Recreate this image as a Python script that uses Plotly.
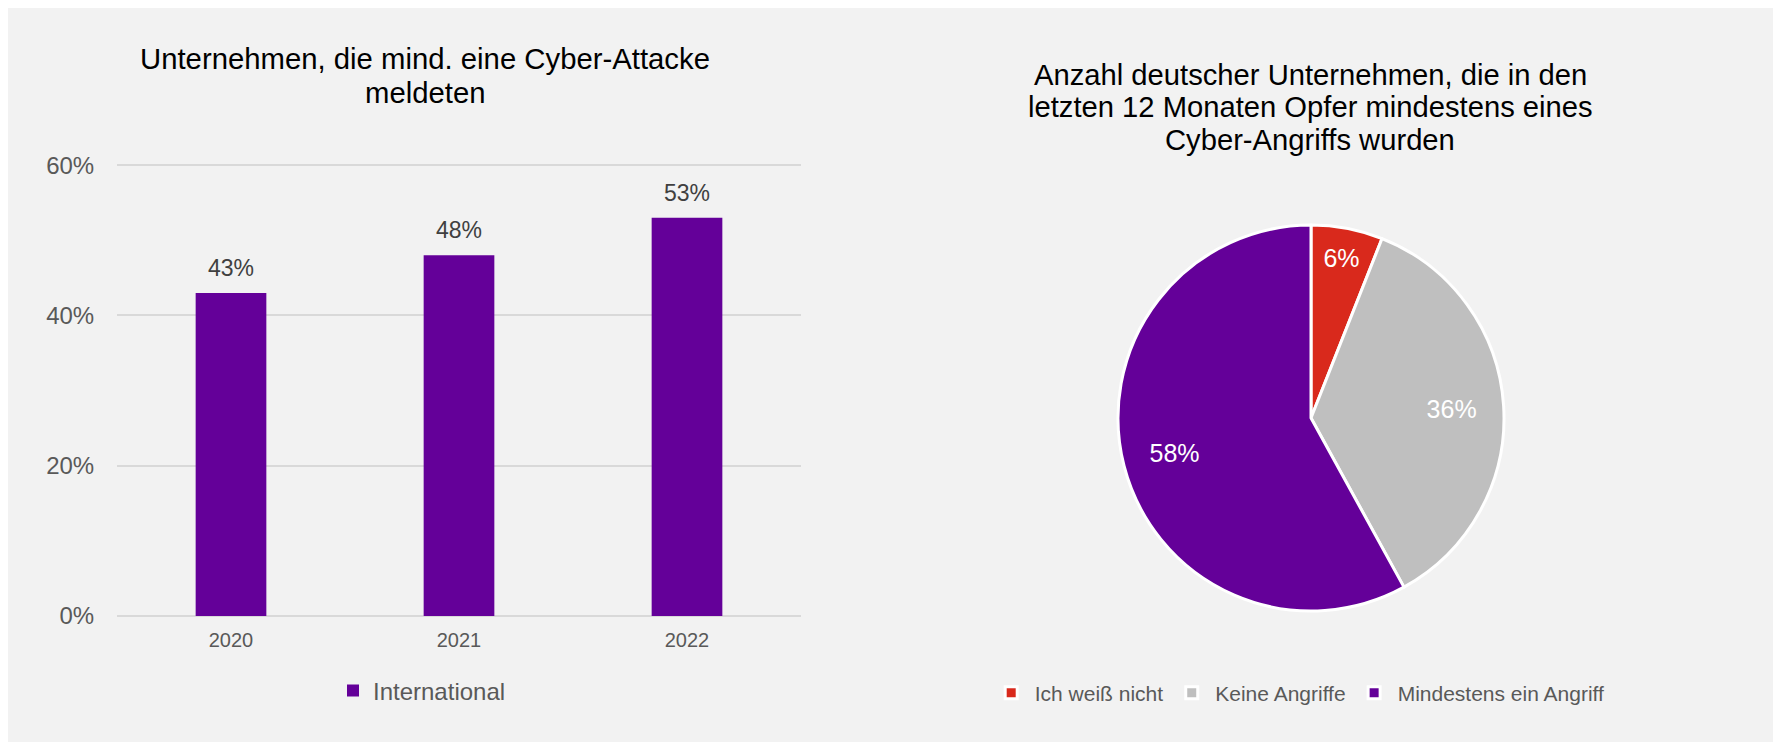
import plotly.graph_objects as go

# ---- data ----
years = ["2020", "2021", "2022"]
international = [43, 48, 53]

pie_labels = ["Ich weiß nicht", "Keine Angriffe", "Mindestens ein Angriff"]
pie_values = [6, 36, 58]

bar_title_lines = ["Unternehmen, die mind. eine Cyber-Attacke", "meldeten"]
pie_title_lines = ["Anzahl deutscher Unternehmen, die in den",
                   "letzten 12 Monaten Opfer mindestens eines",
                   "Cyber-Angriffs wurden"]
y_ticks = [0, 20, 40, 60]
y_tick_labels = [f"{v}%" for v in y_ticks]

# ---- styling ----
# page body has an 8px margin: figure coordinates = screen coordinates - 8
OFF = 8
FW, FH = 1773, 736
FONT = "Liberation Sans, Arial, sans-serif"
PURPLE = "#640099"
RED = "#d9291c"
GREY = "#bfbfbf"
TXT = "#595959"


def px_x(x):
    return (x - OFF) / FW


def px_y(y):
    return (FH - (y - OFF)) / FH


pie_domain = dict(x=[px_x(1118), px_x(1504)], y=[px_y(612), px_y(224)])

# y axis: 0..60 maps to screen 616..165.2, padded so edge gridlines are drawn
Y0_PX, Y60_PX = 616.0, 165.2
PAD = 0.4
ppu = (Y0_PX - Y60_PX) / 60.0

fig = go.Figure()

fig.add_trace(go.Bar(
    x=years, y=international, name="International",
    marker=dict(color=PURPLE, line=dict(width=0)),
    legend="legend", showlegend=True, xaxis="x", yaxis="y",
))

# pie with slices, borders and legend
fig.add_trace(go.Pie(
    labels=pie_labels, values=pie_values,
    marker=dict(colors=[RED, GREY, PURPLE], line=dict(color="white", width=3)),
    sort=False, direction="clockwise", rotation=0,
    textinfo="none",
    domain=pie_domain,
    legend="legend2", showlegend=True,
))
# transparent ring of the same data carrying the percentage labels further out
fig.add_trace(go.Pie(
    labels=pie_labels, values=pie_values, hole=0.46,
    marker=dict(colors=["rgba(0,0,0,0)"] * 3, line=dict(width=0)),
    sort=False, direction="clockwise", rotation=0,
    texttemplate="%{value}%", textposition="inside",
    insidetextorientation="horizontal",
    textfont=dict(color="white", size=25, family=FONT),
    domain=pie_domain, showlegend=False, hoverinfo="skip",
))

annotations = []
# data labels above bars (anchored to data: category index, value)
for i, v in enumerate(international):
    annotations.append(dict(
        x=i, y=v, xref="x", yref="y", text=f"{v}%", showarrow=False,
        yanchor="bottom", yshift=10,
        font=dict(size=23, color="#404040", family=FONT),
    ))

# titles (line by line)
for line, base in zip(bar_title_lines, [68, 102.5]):
    annotations.append(dict(
        x=px_x(425), y=px_y(base - 10), xref="paper", yref="paper",
        text=line, showarrow=False, xanchor="center", yanchor="middle",
        font=dict(size=29.3, color="#000000", family=FONT),
    ))
for line, base in zip(pie_title_lines, [85, 117.5, 150]):
    annotations.append(dict(
        x=px_x(1310), y=px_y(base - 10), xref="paper", yref="paper",
        text=line, showarrow=False, xanchor="center", yanchor="middle",
        font=dict(size=29.2, color="#000000", family=FONT),
    ))

fig.update_layout(
    width=FW, height=FH,
    margin=dict(l=0, r=0, t=0, b=0, autoexpand=False),
    paper_bgcolor="white",
    plot_bgcolor="rgba(0,0,0,0)",
    font=dict(family=FONT, color=TXT),
    showlegend=True,
    bargap=0.69,
    xaxis=dict(
        domain=[px_x(117), px_x(801)],
        type="category", range=[-0.5, 2.5], autorange=False,
        categoryorder="array", categoryarray=years,
        showgrid=False, showline=False, zeroline=False,
        ticks="outside", ticklen=6 - PAD * ppu, tickcolor="rgba(0,0,0,0)",
        tickfont=dict(size=20, color=TXT, family=FONT),
        automargin=False, anchor="y",
    ),
    yaxis=dict(
        domain=[px_y(Y0_PX + PAD * ppu), px_y(Y60_PX - PAD * ppu)],
        range=[-PAD, 60 + PAD], autorange=False,
        tickmode="array", tickvals=y_ticks, ticktext=y_tick_labels,
        showgrid=True, gridcolor="#d9d9d9", gridwidth=1.6,
        zeroline=False, showline=False,
        ticks="outside", ticklen=17, tickcolor="rgba(0,0,0,0)",
        tickfont=dict(size=24, color=TXT, family=FONT),
        automargin=False, anchor="x",
    ),
    legend=dict(
        orientation="h", x=px_x(373 - 40), y=px_y(691),
        xanchor="left", yanchor="middle",
        font=dict(size=24, color=TXT, family=FONT),
        bgcolor="rgba(0,0,0,0)",
    ),
    legend2=dict(
        orientation="h", x=px_x(1034.7 - 47), y=px_y(693),
        xanchor="left", yanchor="middle", itemwidth=37,
        font=dict(size=21, color=TXT, family=FONT),
        bgcolor="rgba(0,0,0,0)",
    ),
    annotations=annotations,
    shapes=[dict(
        type="rect", xref="paper", yref="paper", layer="below",
        x0=px_x(8), x1=px_x(1773), y0=px_y(742), y1=1.01,
        fillcolor="#f2f2f2", line=dict(width=0),
    )],
)

fig.write_html("out.html")
